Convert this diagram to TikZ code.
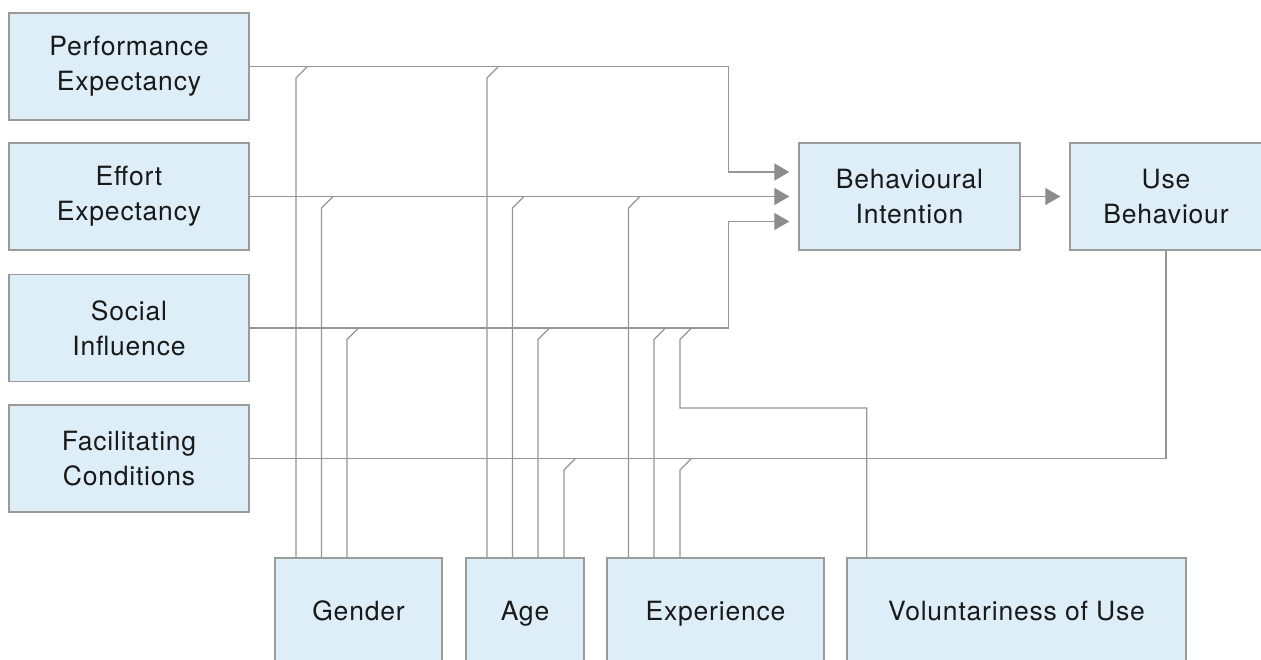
\documentclass[tikz,border=0pt]{standalone}
\usepackage{fontspec}
\setmainfont[LetterSpace=3]{TeX Gyre Heros}
\usetikzlibrary{arrows.meta,calc}
\definecolor{boxfill}{RGB}{221,238,249}
\definecolor{boxline}{RGB}{155,155,155}
\definecolor{wirec}{RGB}{150,150,150}
\definecolor{tipc}{RGB}{140,140,140}
\definecolor{txt}{RGB}{25,25,25}
\begin{document}
\begin{tikzpicture}[x=1pt,y=-1pt,
  box/.style={draw=boxline,fill=boxfill,line width=1.4pt,inner sep=0pt,align=center,text=txt,font=\fontsize{26.5}{35}\selectfont},
  modbox/.style={box,minimum height=108pt,text height=21pt,text depth=4pt},
  wire/.style={draw=wirec,line width=1.3pt},
  arr/.style={wire,-{Triangle[length=15pt,width=17pt,color=tipc]}}]
\useasboundingbox (0,0) rectangle (1261,659);
% left constructs
\node[box,minimum width=240pt,minimum height=107pt] (pe) at (129,66.5) {Performance\\Expectancy};
\node[box,minimum width=240pt,minimum height=107pt] (ee) at (129,196.5) {Effort\\Expectancy};
\node[box,minimum width=240pt,minimum height=107pt] (si) at (129,328) {Social\\Influence};
\node[box,minimum width=240pt,minimum height=107pt] (fc) at (129,458.5) {Facilitating\\Conditions};
% outcome
\node[box,minimum width=221pt,minimum height=107pt] (bi) at (909.5,196.5) {Behavioural\\Intention};
\node[box,minimum width=192pt,minimum height=107pt] (ub) at (1166,196.5) {Use\\Behaviour};
% moderators
\node[modbox,minimum width=167pt] (gender) at (358.5,612) {Gender};
\node[modbox,minimum width=118pt] (age) at (525,612) {Age};
\node[modbox,minimum width=217pt] (exp) at (715.5,612) {Experience};
\node[modbox,minimum width=339pt] (vol) at (1016.5,612) {Voluntariness of Use};
% main paths
\draw[arr] (pe.east) -| ($(bi.west)+(-70,-24.5)$) -- ($(bi.west)+(-9,-24.5)$);
\draw[arr] (ee.east) -- ($(bi.west)+(-9,0)$);
\draw[arr] (si.east) -| ($(bi.west)+(-70,25)$) -- ($(bi.west)+(-9,25)$);
\draw[wire] (fc.east) -| (ub.south);
\draw[arr] (bi.east) -- ($(ub.west)+(-9,0)$);
% moderator x positions
\coordinate (g1) at (296,0);
\coordinate (g2) at (321.5,0);
\coordinate (g3) at (347,0);
\coordinate (a1) at (487,0);
\coordinate (a2) at (512.5,0);
\coordinate (a3) at (538,0);
\coordinate (a4) at (564,0);
\coordinate (e1) at (628.5,0);
\coordinate (e2) at (654,0);
\coordinate (e3) at (680,0);
\coordinate (vk) at (680,408);
% gender
\draw[wire] (g1 |- gender.north) -- ([yshift=-11.5pt]g1 |- pe.east) -- ([xshift=11.5pt]g1 |- pe.east);
\draw[wire] (g2 |- gender.north) -- ([yshift=-11.5pt]g2 |- ee.east) -- ([xshift=11.5pt]g2 |- ee.east);
\draw[wire] (g3 |- gender.north) -- ([yshift=-11.5pt]g3 |- si.east) -- ([xshift=11.5pt]g3 |- si.east);
% age
\draw[wire] (a1 |- age.north) -- ([yshift=-11.5pt]a1 |- pe.east) -- ([xshift=11.5pt]a1 |- pe.east);
\draw[wire] (a2 |- age.north) -- ([yshift=-11.5pt]a2 |- ee.east) -- ([xshift=11.5pt]a2 |- ee.east);
\draw[wire] (a3 |- age.north) -- ([yshift=-11.5pt]a3 |- si.east) -- ([xshift=11.5pt]a3 |- si.east);
\draw[wire] (a4 |- age.north) -- ([yshift=-11.5pt]a4 |- fc.east) -- ([xshift=11.5pt]a4 |- fc.east);
% experience
\draw[wire] (e1 |- exp.north) -- ([yshift=-11.5pt]e1 |- ee.east) -- ([xshift=11.5pt]e1 |- ee.east);
\draw[wire] (e2 |- exp.north) -- ([yshift=-11.5pt]e2 |- si.east) -- ([xshift=11.5pt]e2 |- si.east);
\draw[wire] (e3 |- exp.north) -- ([yshift=-11.5pt]e3 |- fc.east) -- ([xshift=11.5pt]e3 |- fc.east);
% voluntariness
\draw[wire] ($(vol.north west)+(20.5,0)$) |- (vk) -- ([yshift=-11.5pt]vk |- si.east) -- ([xshift=11.5pt]vk |- si.east);
\end{tikzpicture}
\end{document}
